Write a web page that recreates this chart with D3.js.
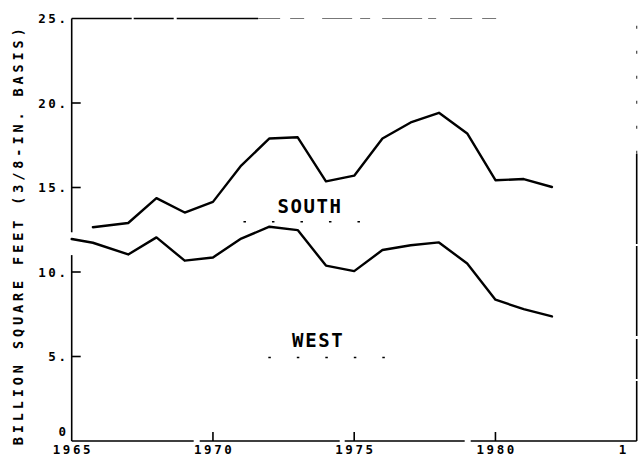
<!DOCTYPE html>
<html>
<head>
<meta charset="utf-8">
<script src="https://cdn.jsdelivr.net/npm/d3@7/dist/d3.min.js"></script>
<style>
  html, body { margin: 0; padding: 0; background: #fff; }
  svg { display: block; }
</style>
</head>
<body>
<svg id="chart" width="642" height="460"></svg>
<script>
// ---- data ----
const southYears  = [1965.75, 1967, 1968, 1969, 1970, 1971, 1972, 1973, 1974, 1975, 1976, 1977, 1978, 1979, 1980, 1981, 1982];
const southValues = [12.65, 12.9, 14.37, 13.52, 14.15, 16.3, 17.9, 17.97, 15.36, 15.7, 17.9, 18.85, 19.42, 18.2, 15.43, 15.5, 15.03];
const westYears   = [1965, 1965.75, 1967, 1968, 1969, 1970, 1971, 1972, 1973, 1974, 1975, 1976, 1977, 1978, 1979, 1980, 1981, 1982];
const westValues  = [11.95, 11.73, 11.04, 12.05, 10.67, 10.86, 11.98, 12.68, 12.48, 10.38, 10.05, 11.3, 11.58, 11.75, 10.5, 8.36, 7.8, 7.37];
const xTicks = [1965, 1970, 1975, 1980, 1985];
const xTickLabels = ["1965", "1970", "1975", "1980", "1"];   // the scan shows only the first digit of the last label
const yTicks = [0, 5, 10, 15, 20, 25];
const yTickLabels = ["0", "5.", "10.", "15.", "20.", "25."];
const yTitle = "BILLION SQUARE FEET (3/8-IN. BASIS)";
const seriesLabels = [
  { name: "SOUTH", year: 1973.4, value: 13.5 },
  { name: "WEST",  year: 1973.69, value: 5.56 }
];

// ---- layout ----
const svg = d3.select("#chart");
const x = d3.scaleLinear().domain([1965, 1985]).range([71.7, 636.7]);
const y = d3.scaleLinear().domain([0, 25]).range([441, 18.5]);
const mono = "'DejaVu Sans Mono', 'Liberation Mono', monospace";

svg.append("rect").attr("width", 642).attr("height", 460).attr("fill", "#fff");

const frame = svg.append("g").attr("fill", "none");
// left axis (with a small break, as in the scan)
frame.append("line").attr("x1", x(1965)).attr("x2", x(1965)).attr("y1", y(0)).attr("y2", y(11.0)).attr("stroke", "#000").attr("stroke-width", 1.6);
frame.append("line").attr("x1", x(1965)).attr("x2", x(1965)).attr("y1", y(12.35)).attr("y2", y(25)).attr("stroke", "#000").attr("stroke-width", 1.6);
// bottom axis
frame.append("line").attr("x1", x(1965)).attr("x2", x(1985)).attr("y1", y(0)).attr("y2", y(0))
  .attr("stroke", "#000").attr("stroke-width", 1.6).attr("stroke-dasharray", "122,6,140,5,120,6,200");
// top border: dark at left, faint and broken further right
frame.append("line").attr("x1", x(1965)).attr("x2", x(1971.6)).attr("y1", y(25)).attr("y2", y(25))
  .attr("stroke", "#000").attr("stroke-width", 1.5).attr("stroke-dasharray", "60,2,40,3,200");
frame.append("line").attr("x1", x(1971.6)).attr("x2", x(1980.6)).attr("y1", y(25)).attr("y2", y(25))
  .attr("stroke", "#777").attr("stroke-width", 1).attr("stroke-dasharray", "22,10,14,18,30,8,10,12,40,6,8,14");
// right border
frame.append("line").attr("x1", x(1985)).attr("x2", x(1985)).attr("y1", y(0)).attr("y2", y(17))
  .attr("stroke", "#000").attr("stroke-width", 1.6).attr("stroke-dasharray", "60,2,40,3,90,2,100");
frame.append("line").attr("x1", x(1985)).attr("x2", x(1985)).attr("y1", y(17)).attr("y2", y(25))
  .attr("stroke", "#444").attr("stroke-width", 1.2).attr("stroke-dasharray", "3,22");

// ticks
const tk = svg.append("g").attr("stroke", "#000").attr("stroke-width", 1.6);
yTicks.filter(d => d > 0 && d < 25).forEach(d => {
  tk.append("line").attr("x1", x(1965)).attr("x2", x(1965) + 9).attr("y1", y(d)).attr("y2", y(d));
});
xTicks.filter(d => d > 1965 && d < 1985).forEach(d => {
  tk.append("line").attr("x1", x(d)).attr("x2", x(d)).attr("y1", y(0)).attr("y2", y(0) - 9);
});

// y tick labels
const ls = 2.6;
svg.append("g").selectAll("text").data(yTicks).join("text")
  .attr("x", 66 + ls)
  .attr("y", d => d === 0 ? y(d) - 10 : y(d))
  .attr("dy", "0.36em")
  .attr("text-anchor", "end")
  .attr("font-family", mono).attr("font-size", 12.5).attr("font-weight", "bold")
  .attr("letter-spacing", ls)
  .attr("fill", "#000")
  .text((d, i) => yTickLabels[i]);

// x tick labels
svg.append("g").selectAll("text").data(xTicks).join("text")
  .attr("x", (d, i) => i === xTicks.length - 1 ? x(d) - 18 : x(d) + ls / 2)
  .attr("y", y(0) + 13)
  .attr("text-anchor", (d, i) => i === xTicks.length - 1 ? "start" : "middle")
  .attr("font-family", mono).attr("font-size", 12.5).attr("font-weight", "bold")
  .attr("letter-spacing", ls)
  .attr("fill", "#000")
  .text((d, i) => xTickLabels[i]);

// y axis title
svg.append("text")
  .attr("transform", `translate(22.5, ${y(12.2)}) rotate(-90)`)
  .attr("text-anchor", "middle")
  .attr("font-family", mono).attr("font-size", 13.5).attr("font-weight", "bold")
  .attr("letter-spacing", 3.9)
  .attr("fill", "#000")
  .text(yTitle);

// series lines
const line = d3.line().x(d => x(d[0])).y(d => y(d[1]));
const south = d3.zip(southYears, southValues);
const west = d3.zip(westYears, westValues);
[south, west].forEach(s => {
  svg.append("path").datum(s).attr("d", line)
    .attr("fill", "none").attr("stroke", "#000").attr("stroke-width", 2.4)
    .attr("stroke-linejoin", "round").attr("stroke-linecap", "round");
});

// series labels with dotted remnants beneath
seriesLabels.forEach(l => {
  svg.append("text")
    .attr("x", x(l.year) + 1).attr("y", y(l.value))
    .attr("text-anchor", "middle")
    .attr("font-family", mono).attr("font-size", 19).attr("font-weight", "bold")
    .attr("letter-spacing", 1.6)
    .attr("fill", "#000")
    .text(l.name);
});
svg.append("line").attr("x1", x(1971.08)).attr("x2", x(1975.3)).attr("y1", y(12.97)).attr("y2", y(12.97))
  .attr("stroke", "#000").attr("stroke-width", 1.6).attr("stroke-dasharray", "2.5,26");
svg.append("line").attr("x1", x(1971.96)).attr("x2", x(1976.1)).attr("y1", y(4.94)).attr("y2", y(4.94))
  .attr("stroke", "#000").attr("stroke-width", 1.6).attr("stroke-dasharray", "2.5,26");
</script>
</body>
</html>
